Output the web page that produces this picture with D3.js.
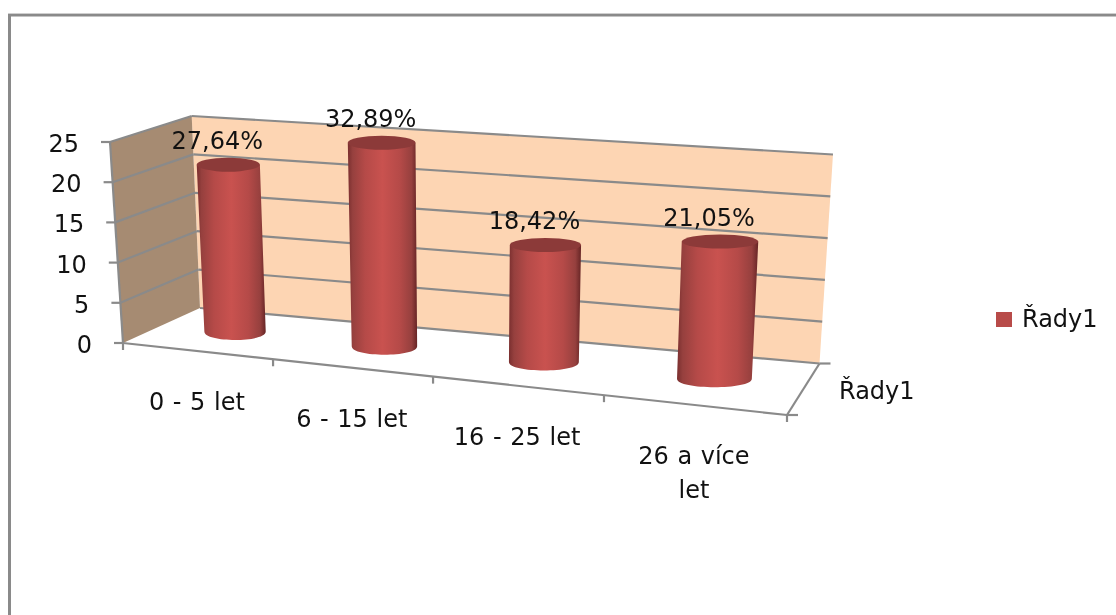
<!DOCTYPE html>
<html><head><meta charset="utf-8">
<script src="https://cdn.jsdelivr.net/npm/d3@7"></script>
<style>html,body{margin:0;background:#fff}svg{display:block}text{font-family:"DejaVu Sans",sans-serif;fill:#111;word-spacing:1px;filter:blur(0.35px)}</style>
</head><body><svg id="c" width="1116" height="615"></svg>
<script>
const categories = ["0 - 5 let","6 - 15 let","16 - 25 let","26 a více let"];
const values = [21,25,14,16];
const percentLabels = ["27,64%","32,89%","18,42%","21,05%"];
const valueTicks = [0,5,10,15,20,25];
const seriesName = "Řady1";

const svg = d3.select("#c");
// Box corners on screen: [front/back][left/right][bottom/top]
const FLB=[123,343],FLT=[110,142],BLB=[200,308],BLT=[191.7,116],
      BRB=[819.5,363.5],BRT=[833,154.5],FRB=[787,415],FRT=[797,188];
const lerp=(a,b,t)=>[a[0]+(b[0]-a[0])*t,a[1]+(b[1]-a[1])*t];
const k=0.876;
const warp=u=>k*u/(1+(k-1)*u);           // perspective along the category axis
const yS=d3.scaleLinear().domain([0,25]).range([0,1]);
const xS=d3.scaleBand().domain(categories).range([0,1]);
function P(u,v,w){                        // u across, v value, w depth (0 front, 1 back)
  const f=warp(u),t=yS(v);
  const front=lerp(lerp(FLB,FRB,f),lerp(FLT,FRT,f),t);
  const back=lerp(lerp(BLB,BRB,f),lerp(BLT,BRT,f),t);
  return lerp(front,back,w);
}
const line=d3.line();
const grey="#8a8a8a";
const poly=(pts,fill)=>svg.append("path").attr("d",line(pts)+"Z").attr("fill",fill);
const seg=(a,b,w=2.2)=>svg.append("path").attr("d",line([a,b])).attr("stroke",grey).attr("stroke-width",w).attr("fill","none");

// chart frame
svg.append("rect").attr("x",8).attr("y",13).attr("width",1108).attr("height",1).attr("fill","#cfcfcf");
svg.append("rect").attr("x",8).attr("y",14).attr("width",1108).attr("height",2.5).attr("fill",grey);
svg.append("rect").attr("x",8).attr("y",14).attr("width",3).attr("height",601).attr("fill",grey);

// walls
poly([BLB,BRB,BRT,BLT],"#fdd5b3");
poly([FLB,BLB,BLT,FLT],"#a68b72");

// gridlines
valueTicks.forEach(v=>{
  seg(P(0,v,1),P(1,v,1));
  if(v>0) seg(P(0,v,0),P(0,v,1));
});
// axes
seg(FLB,FLT); seg(FLB,FRB); seg(FRB,BRB);
valueTicks.forEach(v=>{const p=P(0,v,0);seg([p[0]-9,p[1]],p);});
[0,.25,.5,.75,1].forEach(u=>{const p=P(u,0,0);seg(p,[p[0],p[1]+7]);});
seg(FRB,[FRB[0]+11,FRB[1]]);
seg(BRB,[BRB[0]+11,BRB[1]]);

// cylinder gradient
const defs=svg.append("defs");
const g=defs.append("linearGradient").attr("id","cyl");
[[0,"#7a2f2f"],[.07,"#96403e"],[.25,"#b54a48"],[.5,"#c9524f"],[.75,"#b54a48"],[.92,"#96403e"],[1,"#662525"]]
 .forEach(d=>g.append("stop").attr("offset",d[0]).attr("stop-color",d[1]));

const r=0.053, mid=0.53, ryTop=7, ryBot=8.5;
categories.forEach((c,i)=>{
  const u=xS(c)+xS.bandwidth()/2, v=values[i];
  const b=P(u,0,mid), t=P(u,v,mid);
  const rb=(P(u+r,0,mid)[0]-P(u-r,0,mid)[0])/2;
  const rt=(P(u+r,v,mid)[0]-P(u-r,v,mid)[0])/2;
  const path=d3.path();
  path.moveTo(t[0]-rt,t[1]);
  path.lineTo(b[0]-rb,b[1]);
  path.bezierCurveTo(b[0]-rb,b[1]+ryBot*1.33,b[0]+rb,b[1]+ryBot*1.33,b[0]+rb,b[1]);
  path.lineTo(t[0]+rt,t[1]);
  path.closePath();
  svg.append("path").attr("d",path.toString()).attr("fill","url(#cyl)");
  svg.append("ellipse").attr("cx",t[0]).attr("cy",t[1]).attr("rx",rt).attr("ry",ryTop).attr("fill","#8c3a39");
  svg.append("text").attr("x",t[0]-11).attr("y",t[1]-16).attr("text-anchor","middle").attr("font-size",24).text(percentLabels[i]);
  // category label
  const a=P(u,0,0);
  const words=c==="26 a více let"?["26 a více","let"]:[c];
  words.forEach((w,j)=>svg.append("text").attr("x",a[0]).attr("y",a[1]+59+j*34).attr("text-anchor","middle").attr("font-size",24).text(w));
});

// value labels
valueTicks.forEach(v=>{
  const p=P(0,v,0);
  svg.append("text").attr("x",p[0]-31).attr("y",p[1]+10).attr("text-anchor","end").attr("font-size",24).text(v);
});
// depth label
svg.append("text").attr("x",839).attr("y",399).attr("font-size",24).text(seriesName);
// legend
svg.append("rect").attr("x",996).attr("y",312).attr("width",16).attr("height",15).attr("fill","#b84b49");
svg.append("text").attr("x",1022).attr("y",327).attr("font-size",24).text(seriesName);
</script></body></html>
